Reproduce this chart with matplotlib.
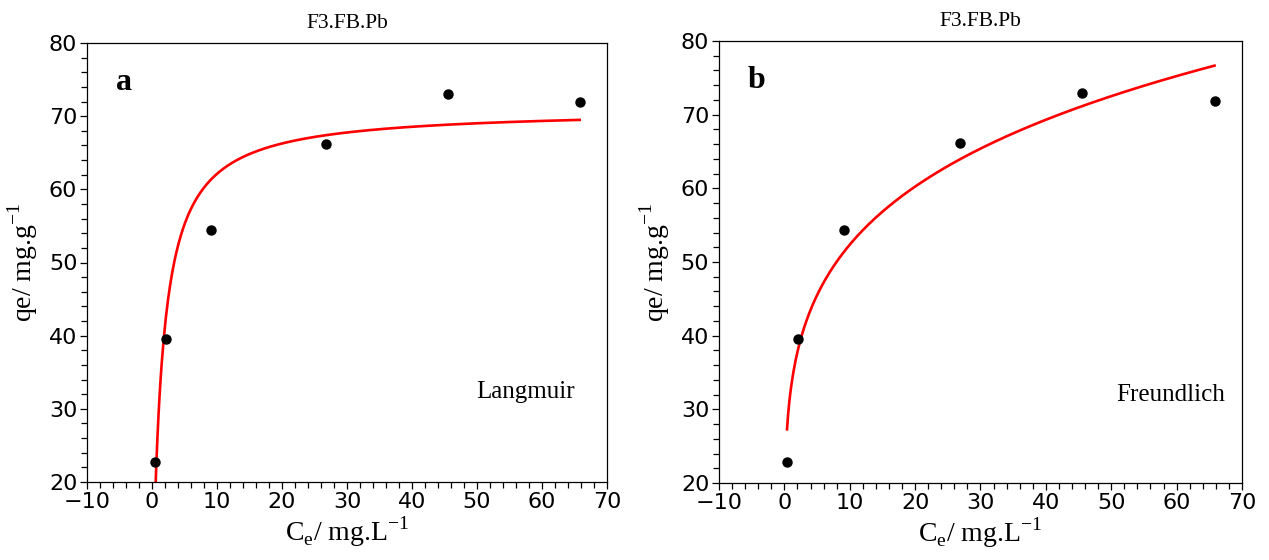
import numpy as np
import matplotlib
matplotlib.use("Agg")
import matplotlib.pyplot as plt
from matplotlib.ticker import MultipleLocator

# measured isotherm points (Ce in mg/L, qe in mg/g)
ce = [0.4, 2.1, 9.1, 26.8, 45.5, 65.8]
qe = [22.8, 39.6, 54.4, 66.2, 73.0, 71.9]

# fitted model parameters
qmax, k_l = 71.0, 0.70          # Langmuir
k_f, n_inv = 32.85, 0.2024      # Freundlich

panels = ["a", "b"]
models = ["Langmuir", "Freundlich"]
title = "F3.FB.Pb"

serif = "Liberation Serif"

fig = plt.figure(figsize=(12.69, 5.6), dpi=100)
ax_a = fig.add_axes([0.0686, 0.1393, 0.4097, 0.7839])
ax_b = fig.add_axes([0.5666, 0.1375, 0.4121, 0.7893])

c_lang = np.linspace(0.5, ce[-1], 400)
q_lang = qmax * k_l * c_lang / (1 + k_l * c_lang)
c_fr = np.linspace(ce[0], ce[-1], 400)
q_fr = k_f * c_fr ** n_inv

curves = [(c_lang, q_lang), (c_fr, q_fr)]
text_pos = [(0.938, 0.205), (0.967, 0.199)]

for ax, tag, model, (cx, qy), tp in zip([ax_a, ax_b], panels, models, curves, text_pos):
    ax.plot(cx, qy, color="#ff0000", lw=1.9, zorder=2)
    ax.plot(ce, qe, "o", color="black", ms=6.5, zorder=3)
    ax.set_xlim(-10, 70)
    ax.set_ylim(20, 80)
    ax.xaxis.set_major_locator(MultipleLocator(10))
    ax.xaxis.set_minor_locator(MultipleLocator(2))
    ax.yaxis.set_major_locator(MultipleLocator(10))
    ax.yaxis.set_minor_locator(MultipleLocator(2))
    ax.tick_params(which="both", direction="out", top=False, right=False,
                   labelsize=16, width=0.9)
    ax.tick_params(which="major", length=5, pad=2)
    ax.tick_params(which="minor", length=4)
    for s in ax.spines.values():
        s.set_linewidth(0.9)
    ax.set_title(title, fontfamily=serif, fontsize=15.5, pad=11)
    ax.set_xlabel(r"C$_\mathregular{e}$/ mg.L$^\mathregular{-1}$",
                  fontfamily=serif, fontsize=20, labelpad=2)
    ax.set_ylabel(r"qe/ mg.g$^\mathregular{-1}$", fontfamily=serif, fontsize=20,
                  labelpad=6)
    ax.text(0.055, 0.91, tag, transform=ax.transAxes, fontfamily=serif,
            fontweight="bold", fontsize=23, va="center", ha="left")
    ax.text(tp[0], tp[1], model, transform=ax.transAxes, fontfamily=serif,
            fontsize=18, ha="right", va="center")

fig.savefig("out.png", dpi=100)
